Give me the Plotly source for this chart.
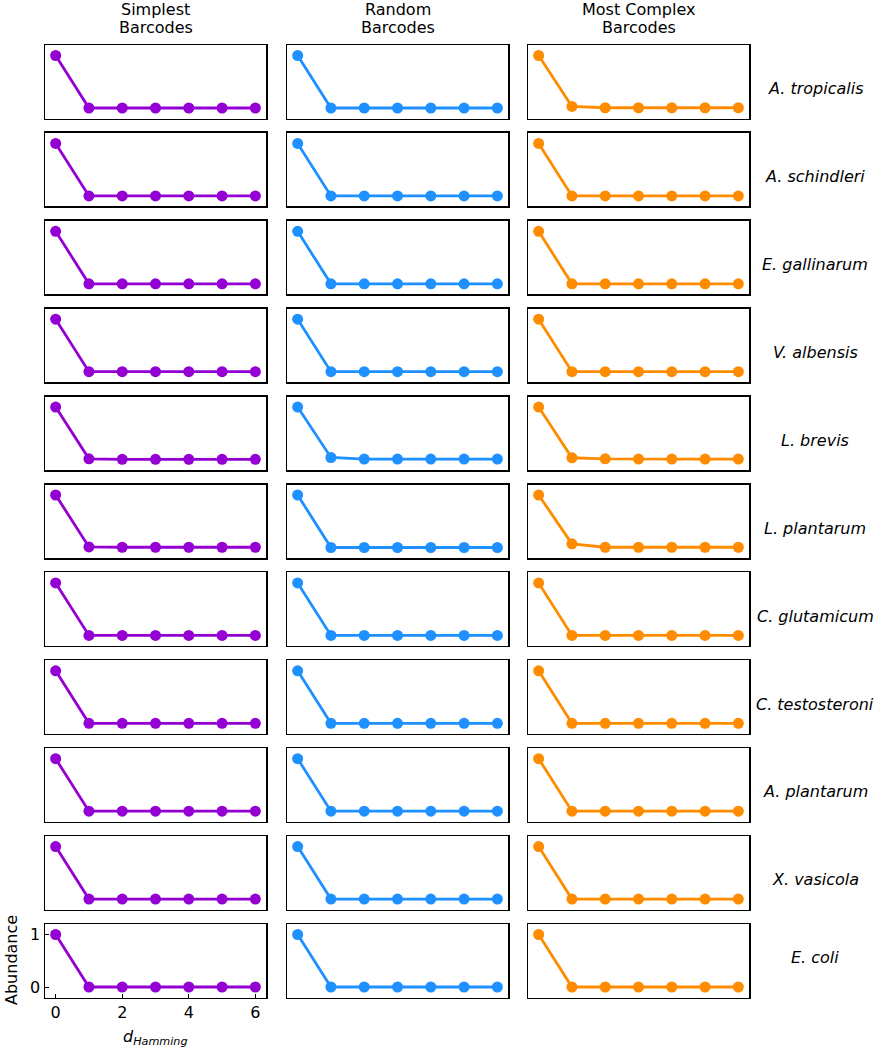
import plotly.graph_objects as go

W, H = 877, 1050

d_hamming = [0, 1, 2, 3, 4, 5, 6]
title_line1 = ["Simplest", "Random", "Most Complex"]
title_line2 = ["Barcodes", "Barcodes", "Barcodes"]
colors = ["#9400D3", "#1E90FF", "#FF8C00"]
species = ["A. tropicalis", "A. schindleri", "E. gallinarum", "V. albensis", "L. brevis",
           "L. plantarum", "C. glutamicum", "C. testosteroni", "A. plantarum", "X. vasicola", "E. coli"]

# abundance per species, per column (simplest, random, most complex)
simplest = [
    [1, 0, 0, 0, 0, 0, 0],
    [1, 0, 0, 0, 0, 0, 0],
    [1, 0, 0, 0, 0, 0, 0],
    [1, 0, 0, 0, 0, 0, 0],
    [1, 0.015, 0.005, 0.005, 0.005, 0.005, 0.005],
    [1, 0.01, 0.005, 0.005, 0.005, 0.005, 0.005],
    [1, 0, 0, 0, 0, 0, 0],
    [1, 0, 0, 0, 0, 0, 0],
    [1, 0, 0, 0, 0, 0, 0],
    [1, 0, 0, 0, 0, 0, 0],
    [1, 0, 0, 0, 0, 0, 0],
]
random_bc = [
    [1, 0, 0, 0, 0, 0, 0],
    [1, 0, 0, 0, 0, 0, 0],
    [1, 0, 0, 0, 0, 0, 0],
    [1, 0, 0, 0, 0, 0, 0],
    [1, 0.04, 0.01, 0.01, 0.01, 0.01, 0.01],
    [1, 0, 0, 0, 0, 0, 0],
    [1, 0, 0, 0, 0, 0, 0],
    [1, 0, 0, 0, 0, 0, 0],
    [1, 0, 0, 0, 0, 0, 0],
    [1, 0, 0, 0, 0, 0, 0],
    [1, 0, 0, 0, 0, 0, 0],
]
complex_bc = [
    [1, 0.03, 0.005, 0.005, 0.005, 0.005, 0.005],
    [1, 0, 0, 0, 0, 0, 0],
    [1, 0, 0, 0, 0, 0, 0],
    [1, 0, 0, 0, 0, 0, 0],
    [1, 0.035, 0.015, 0.01, 0.01, 0.01, 0.01],
    [1, 0.07, 0.005, 0.005, 0.005, 0.005, 0.005],
    [1, 0, 0, 0, 0, 0, 0],
    [1, 0, 0, 0, 0, 0, 0],
    [1, 0, 0, 0, 0, 0, 0],
    [1, 0, 0, 0, 0, 0, 0],
    [1, 0, 0, 0, 0, 0, 0],
]
data_cols = [simplest, random_bc, complex_bc]

x_ticks = [0, 2, 4, 6]
y_ticks = [0, 1]

# layout geometry (pixels)
col_left = [45, 287, 528]
col_w = 221
row_top0 = 45
row_pitch = 87.9
row_h = 73.5


def px(xp):
    return xp / W


def py(yp):
    return 1 - yp / H


fig = go.Figure()
layout = dict(width=W, height=H, margin=dict(l=0, r=0, t=0, b=0),
              paper_bgcolor="white", plot_bgcolor="white", showlegend=False,
              font=dict(family="DejaVu Sans", color="black", size=16))
annotations = []

idx = 0
for r, sp in enumerate(species):
    top = row_top0 + r * row_pitch
    bot = top + row_h
    for c in range(3):
        idx += 1
        xa = "xaxis" if idx == 1 else f"xaxis{idx}"
        ya = "yaxis" if idx == 1 else f"yaxis{idx}"
        xr = "x" if idx == 1 else f"x{idx}"
        yr = "y" if idx == 1 else f"y{idx}"
        fig.add_trace(go.Scatter(
            x=d_hamming, y=data_cols[c][r], xaxis=xr, yaxis=yr, mode="lines+markers",
            line=dict(color=colors[c], width=2.8),
            marker=dict(color=colors[c], size=11),
            cliponaxis=False, hoverinfo="skip"))
        is_labeled = (r == len(species) - 1 and c == 0)
        layout[xa] = dict(
            domain=[px(col_left[c]), px(col_left[c] + col_w)], anchor=yr,
            range=[-0.32, 6.32], showgrid=False, zeroline=False,
            showline=True, mirror=True, linecolor="black", linewidth=1.5,
            tickvals=x_ticks if is_labeled else [], ticks="inside" if is_labeled else "",
            ticklen=4, tickwidth=1, tickcolor="black",
            showticklabels=is_labeled, tickfont=dict(size=16))
        layout[ya] = dict(
            domain=[py(bot), py(top)], anchor=xr,
            range=[-0.2, 1.2], showgrid=False, zeroline=False,
            showline=True, mirror=True, linecolor="black", linewidth=1.5,
            tickvals=y_ticks if is_labeled else [], ticks="inside" if is_labeled else "",
            ticklen=4, tickwidth=1, tickcolor="black",
            showticklabels=is_labeled, tickfont=dict(size=16))
    # species label
    center = (top + bot) / 2
    shift = -7 if r < len(species) - 1 else 3
    annotations.append(dict(
        text=f"<i>{sp}</i>", x=px(815), y=py(center), xref="paper", yref="paper",
        xanchor="center", yanchor="middle", yshift=shift, showarrow=False,
        font=dict(size=16, family="DejaVu Sans")))

# column titles (two lines each)
for c in range(3):
    cx = px(col_left[c] + col_w / 2)
    annotations.append(dict(
        text=title_line1[c], x=cx, y=py(10), xref="paper", yref="paper",
        xanchor="center", yanchor="middle", showarrow=False, font=dict(size=16)))
    annotations.append(dict(
        text=title_line2[c], x=cx, y=py(28), xref="paper", yref="paper",
        xanchor="center", yanchor="middle", showarrow=False, font=dict(size=16)))

# axis labels
annotations.append(dict(
    text="Abundance", x=px(11), y=py(960), xref="paper", yref="paper",
    xanchor="center", yanchor="middle", textangle=-90, showarrow=False,
    font=dict(size=16)))
annotations.append(dict(
    text="<i>d</i><sub><i>Hamming</i></sub>", x=px(155), y=py(1037),
    xref="paper", yref="paper", xanchor="center", yanchor="middle", showarrow=False,
    font=dict(size=16)))

layout["annotations"] = annotations
fig.update_layout(**layout)
fig.write_html(
    "out.html",
    config={"displayModeBar": False, "staticPlot": True},
    post_script="document.body.style.margin='0px';document.body.style.padding='0px';"
                "document.documentElement.style.overflow='hidden';")
